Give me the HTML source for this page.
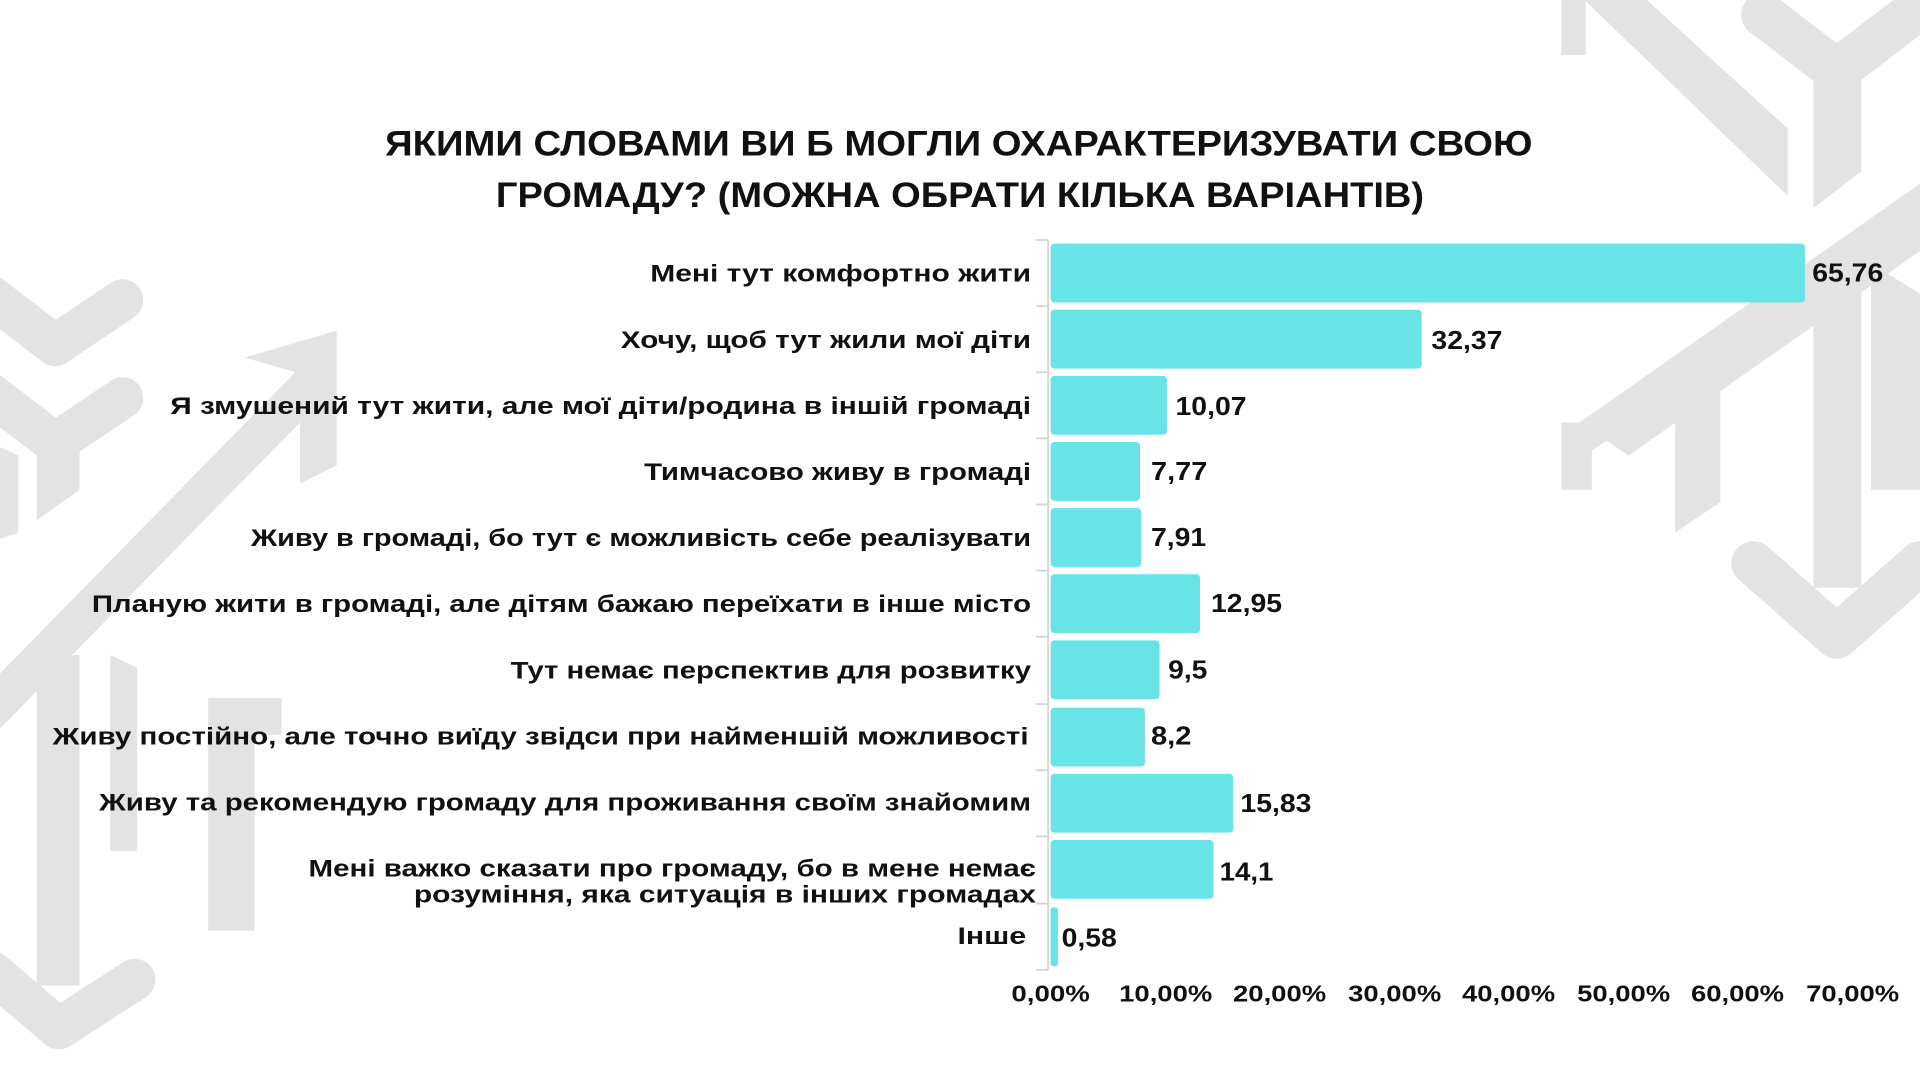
<!DOCTYPE html>
<html><head><meta charset="utf-8"><style>html,body{margin:0;padding:0;background:#fff}svg{display:block}</style></head>
<body>
<svg width="1920" height="1080" viewBox="0 0 1568 882" preserveAspectRatio="none" xmlns="http://www.w3.org/2000/svg">
<rect width="1568" height="882" fill="#fff"/>
<g fill="#e3e3e3">
  <rect x="1275" y="0" width="20" height="45"/>
  <polygon points="1294,0 1345,0 1460,105 1460,160"/>
  <path d="M1440,12 L1500,58 L1560,12" fill="none" stroke="#e3e3e3" stroke-width="36" stroke-linecap="round" stroke-linejoin="round"/>
  <polygon points="1481,60 1520,60 1520,140 1481,170"/>
  <polygon points="1290,345 1568,150 1568,205 1330,372"/>
  <polygon points="1350,318 1405,318 1405,410 1368,435 1368,345 1330,345"/>
  <polygon points="1275,345 1335,345 1300,368 1300,400 1275,400"/>
  <rect x="1481" y="225" width="39" height="255"/>
  <path d="M1432,460 L1500,520 L1568,460" fill="none" stroke="#e3e3e3" stroke-width="36" stroke-linecap="round" stroke-linejoin="round"/>
  <polygon points="1528,215 1568,240 1568,400 1528,400"/>
  <path d="M-10,240 L45,282 L100,245" fill="none" stroke="#e3e3e3" stroke-width="34" stroke-linecap="round" stroke-linejoin="round"/>
  <path d="M-10,320 L45,362 L100,325" fill="none" stroke="#e3e3e3" stroke-width="34" stroke-linecap="round" stroke-linejoin="round"/>
  <polygon points="30,365 65,365 65,400 30,425"/>
  <polygon points="0,365 15,372 15,435 0,440"/>
  <polygon points="0,550 245,300 245,345 0,595"/>
  <polygon points="200,292 275,270 275,380 245,395 245,305"/>
  <rect x="30" y="535" width="35" height="270"/>
  <path d="M-5,795 L48,840 L110,800" fill="none" stroke="#e3e3e3" stroke-width="34" stroke-linecap="round" stroke-linejoin="round"/>
  <polygon points="90,535 112,545 112,695 90,695"/>
  <polygon points="170,570 230,570 230,600 208,600 208,760 170,760"/>
</g>

<g font-family="'Liberation Sans','DejaVu Sans',sans-serif" font-weight="bold" fill="#111">
  <text x="783" y="127" font-size="29" text-anchor="middle" textLength="937" lengthAdjust="spacingAndGlyphs">ЯКИМИ СЛОВАМИ ВИ Б МОГЛИ ОХАРАКТЕРИЗУВАТИ СВОЮ</text>
  <text x="784" y="169" font-size="29" text-anchor="middle" textLength="758" lengthAdjust="spacingAndGlyphs">ГРОМАДУ?  (МОЖНА ОБРАТИ КІЛЬКА ВАРІАНТІВ)</text>
</g>

<g stroke="#d5d5d5" stroke-width="1.5" fill="none">
  <line x1="856" y1="196" x2="856" y2="792"/>
  <line x1="846" y1="196" x2="856" y2="196"/>
  <line x1="846" y1="250" x2="856" y2="250"/>
  <line x1="846" y1="304" x2="856" y2="304"/>
  <line x1="846" y1="358" x2="856" y2="358"/>
  <line x1="846" y1="412" x2="856" y2="412"/>
  <line x1="846" y1="466" x2="856" y2="466"/>
  <line x1="846" y1="520" x2="856" y2="520"/>
  <line x1="846" y1="575" x2="856" y2="575"/>
  <line x1="846" y1="629" x2="856" y2="629"/>
  <line x1="846" y1="683" x2="856" y2="683"/>
  <line x1="846" y1="738" x2="856" y2="738"/>
  <line x1="846" y1="792" x2="856" y2="792"/>
</g>

<g fill="#68e3e6">
  <rect x="858" y="199" width="616" height="48" rx="3"/>
  <rect x="858" y="253" width="303" height="48" rx="3"/>
  <rect x="858" y="307" width="95" height="48" rx="3"/>
  <rect x="858" y="361" width="73" height="48" rx="3"/>
  <rect x="858" y="415" width="74" height="48" rx="3"/>
  <rect x="858" y="469" width="122" height="48" rx="3"/>
  <rect x="858" y="523" width="89" height="48" rx="3"/>
  <rect x="858" y="578" width="77" height="48" rx="3"/>
  <rect x="858" y="632" width="149" height="48" rx="3"/>
  <rect x="858" y="686" width="133" height="48" rx="3"/>
  <rect x="858" y="741" width="6" height="48" rx="2"/>
</g>

<g font-family="'Liberation Sans','DejaVu Sans',sans-serif" font-weight="bold" font-size="20" fill="#111" text-anchor="end">
  <text x="842" y="230" textLength="311" lengthAdjust="spacingAndGlyphs">Мені тут комфортно жити</text>
  <text x="842" y="284" textLength="335" lengthAdjust="spacingAndGlyphs">Хочу, щоб тут жили мої діти</text>
  <text x="842" y="338" textLength="703" lengthAdjust="spacingAndGlyphs">Я змушений тут жити, але мої діти/родина в іншій громаді</text>
  <text x="842" y="392" textLength="316" lengthAdjust="spacingAndGlyphs">Тимчасово живу в громаді</text>
  <text x="842" y="446" textLength="637" lengthAdjust="spacingAndGlyphs">Живу в громаді, бо тут є можливість себе реалізувати</text>
  <text x="842" y="500" textLength="767" lengthAdjust="spacingAndGlyphs">Планую жити в громаді, але дітям бажаю переїхати в інше місто</text>
  <text x="842" y="554" textLength="425" lengthAdjust="spacingAndGlyphs">Тут немає перспектив для розвитку</text>
  <text x="840" y="608" textLength="797" lengthAdjust="spacingAndGlyphs">Живу постійно, але точно виїду звідси при найменшій можливості</text>
  <text x="842" y="662" textLength="761" lengthAdjust="spacingAndGlyphs">Живу та рекомендую громаду для проживання своїм знайомим</text>
  <text x="846" y="716" textLength="594" lengthAdjust="spacingAndGlyphs">Мені важко сказати про громаду, бо в мене немає</text>
  <text x="846" y="737" textLength="508" lengthAdjust="spacingAndGlyphs">розуміння, яка ситуація в інших громадах</text>
  <text x="838" y="771" textLength="56" lengthAdjust="spacingAndGlyphs">Інше</text>
</g>

<g font-family="'Liberation Sans','DejaVu Sans',sans-serif" font-weight="bold" font-size="21" fill="#111" lengthAdjust="spacingAndGlyphs">
  <text x="1480" y="230" textLength="58" lengthAdjust="spacingAndGlyphs">65,76</text>
  <text x="1169" y="285" textLength="58" lengthAdjust="spacingAndGlyphs">32,37</text>
  <text x="960" y="339" textLength="58" lengthAdjust="spacingAndGlyphs">10,07</text>
  <text x="940" y="392" textLength="46" lengthAdjust="spacingAndGlyphs">7,77</text>
  <text x="940" y="446" textLength="45" lengthAdjust="spacingAndGlyphs">7,91</text>
  <text x="989" y="500" textLength="58" lengthAdjust="spacingAndGlyphs">12,95</text>
  <text x="954" y="554" textLength="32" lengthAdjust="spacingAndGlyphs">9,5</text>
  <text x="940" y="608" textLength="33" lengthAdjust="spacingAndGlyphs">8,2</text>
  <text x="1013" y="663" textLength="58" lengthAdjust="spacingAndGlyphs">15,83</text>
  <text x="996" y="719" textLength="44" lengthAdjust="spacingAndGlyphs">14,1</text>
  <text x="867" y="773" textLength="45" lengthAdjust="spacingAndGlyphs">0,58</text>
</g>

<g font-family="'Liberation Sans','DejaVu Sans',sans-serif" font-weight="bold" font-size="19" fill="#111" text-anchor="middle">
  <text x="858" y="818" textLength="64" lengthAdjust="spacingAndGlyphs">0,00%</text>
  <text x="952" y="818" textLength="76" lengthAdjust="spacingAndGlyphs">10,00%</text>
  <text x="1045" y="818" textLength="76" lengthAdjust="spacingAndGlyphs">20,00%</text>
  <text x="1139" y="818" textLength="76" lengthAdjust="spacingAndGlyphs">30,00%</text>
  <text x="1232" y="818" textLength="76" lengthAdjust="spacingAndGlyphs">40,00%</text>
  <text x="1326" y="818" textLength="76" lengthAdjust="spacingAndGlyphs">50,00%</text>
  <text x="1419" y="818" textLength="76" lengthAdjust="spacingAndGlyphs">60,00%</text>
  <text x="1513" y="818" textLength="76" lengthAdjust="spacingAndGlyphs">70,00%</text>
</g>
</svg>
</body></html>
